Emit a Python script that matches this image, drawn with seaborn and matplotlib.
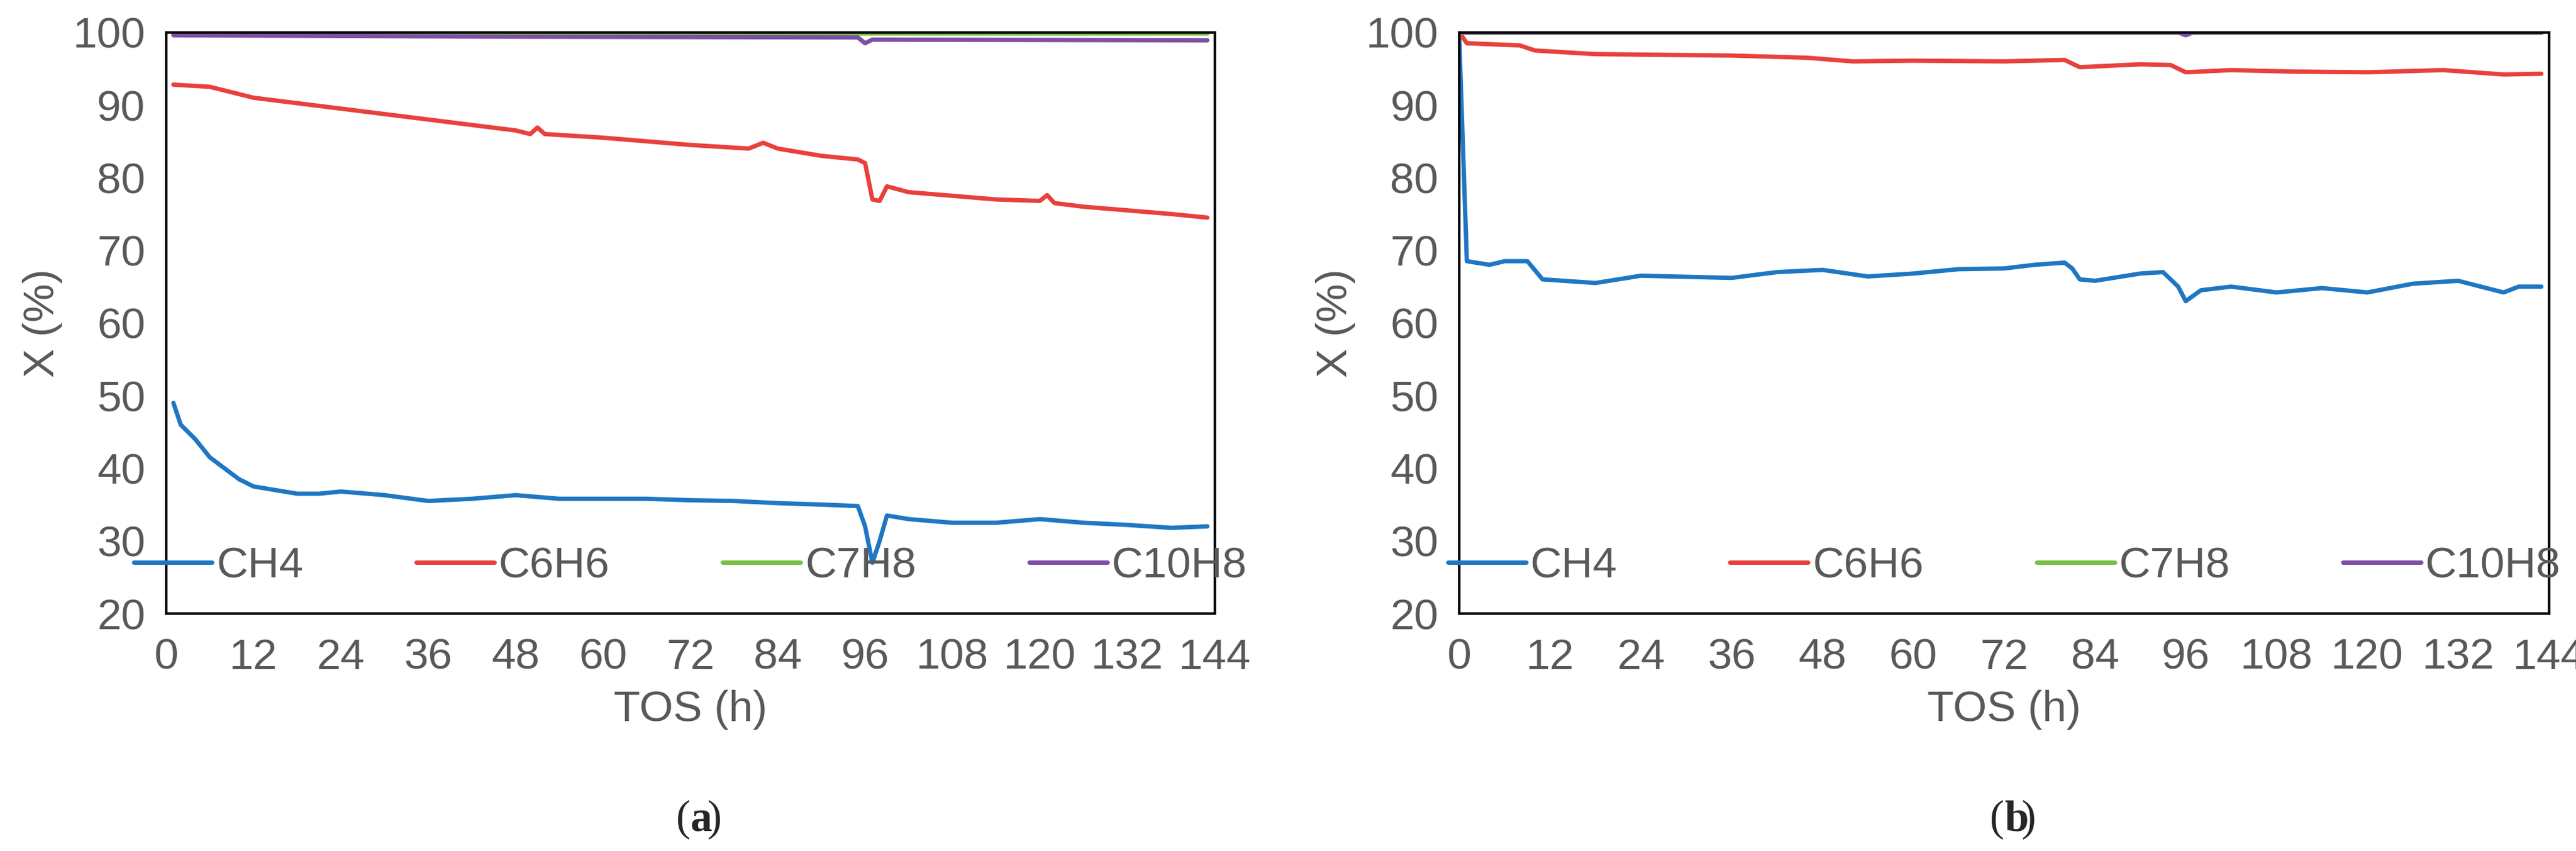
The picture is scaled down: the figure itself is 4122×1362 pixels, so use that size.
import numpy as np
import pandas as pd
import matplotlib
matplotlib.use("Agg")
import matplotlib.pyplot as plt
import seaborn as sns

sns.set_style("white")
plt.rcParams['font.family'] = ['Liberation Sans', 'DejaVu Sans']

# Panel (a)
a_ch4_x = [1,2,4,6,8,10,12,15,18,21,24,30,36,42,48,54,60,66,72,78,84,90,95,96,97,98,99,102,108,114,120,126,132,138,143]
a_ch4_y = [49,46,44,41.5,40,38.5,37.5,37,36.5,36.5,36.8,36.3,35.5,35.8,36.3,35.8,35.8,35.8,35.6,35.5,35.2,35,34.8,32,27,30,33.5,33,32.5,32.5,33,32.5,32.2,31.8,32]
a_c6h6_x = [1,6,12,24,36,48,50,51,52,60,72,80,82,84,90,95,96,97,98,99,102,108,114,120,121,122,126,132,138,143]
a_c6h6_y = [92.8,92.5,91,89.5,88,86.5,86,86.9,86,85.5,84.5,84,84.8,84,83,82.5,82,77,76.8,78.8,78,77.5,77,76.8,77.6,76.5,76,75.5,75,74.5]
a_c7h8_x = [1,48,96,143]
a_c7h8_y = [99.9,99.9,99.9,99.9]
a_c10h8_x = [1,48,95,96,97,143]
a_c10h8_y = [99.6,99.4,99.3,98.5,99.0,98.9]

# Panel (b)
b_ch4_x = [0,1,4,6,9,11,18,24,36,42,48,54,60,66,72,76,80,81,82,84,90,93,95,96,98,102,108,114,120,126,132,138,140,143]
b_ch4_y = [99,68.5,68,68.5,68.5,66,65.5,66.5,66.2,67,67.3,66.4,66.8,67.4,67.5,68,68.3,67.5,66,65.8,66.8,67,65,63,64.5,65,64.2,64.8,64.2,65.4,65.8,64.2,65,65]
b_c6h6_x = [0,1,8,10,18,36,46,52,60,72,80,82,90,94,96,102,110,120,130,138,143]
b_c6h6_y = [100,98.5,98.2,97.5,97,96.8,96.5,96,96.1,96,96.2,95.2,95.6,95.5,94.5,94.8,94.6,94.5,94.8,94.2,94.3]
b_c7h8_x = [0,48,96,143]
b_c7h8_y = [100,100,100,100]
b_c10h8_x = [0,95,96,97,143]
b_c10h8_y = [100,100,99.6,100,100]

names = ["CH4", "C6H6", "C7H8", "C10H8"]
palette = {"CH4": "#1f77c4", "C6H6": "#e8413c", "C7H8": "#77c043", "C10H8": "#7d4fa5"}

def frame(series):
    rows = []
    for n, (xs, ys) in zip(names, series):
        rows += [{"t": x, "X": y, "s": n} for x, y in zip(xs, ys)]
    return pd.DataFrame(rows)

dfa = frame([(a_ch4_x, a_ch4_y), (a_c6h6_x, a_c6h6_y), (a_c7h8_x, a_c7h8_y), (a_c10h8_x, a_c10h8_y)])
dfb = frame([(b_ch4_x, b_ch4_y), (b_c6h6_x, b_c6h6_y), (b_c7h8_x, b_c7h8_y), (b_c10h8_x, b_c10h8_y)])

fig = plt.figure(figsize=(41.22, 13.62), dpi=100)
axa = fig.add_axes([0.0645, 0.279, 0.407, 0.683])
axb = fig.add_axes([0.5665, 0.279, 0.423, 0.683])
grey = "#595959"
fs = 50
for ax, df, lab in [(axa, dfa, "a"), (axb, dfb, "b")]:
    sns.lineplot(data=df, x="t", y="X", hue="s", hue_order=names, palette=palette,
                 linewidth=5, ax=ax, estimator=None, sort=False)
    ax.set_xlim(0, 144)
    ax.set_ylim(20, 100)
    ax.set_xticks(range(0, 145, 12))
    ax.set_yticks(range(20, 101, 10))
    ax.tick_params(axis="x", labelsize=fs, colors=grey, length=0, pad=28)
    ax.tick_params(axis="y", labelsize=fs, colors=grey, length=0, pad=24)
    ax.set_xlabel("TOS (h)", fontsize=fs, color=grey, labelpad=14)
    ax.set_ylabel("X (%)", fontsize=fs, color=grey, labelpad=12)
    for s in ax.spines.values():
        s.set_color("black"); s.set_linewidth(3)
    ax.legend(loc="lower center", ncol=4, frameon=False, fontsize=fs, handlelength=1.8,
              handletextpad=0.1, columnspacing=2.6, labelcolor=grey,
              bbox_to_anchor=(0.5, -0.02))
    for l in ax.get_legend().get_lines():
        l.set_linewidth(5)
    ax.text(0.5, -0.355, "(", transform=ax.transAxes, ha="right", va="center",
            fontsize=fs, family="Liberation Serif")
    ax.text(0.5, -0.355, lab, transform=ax.transAxes, ha="left", va="center",
            fontsize=fs, family="Liberation Serif", fontweight="bold")
    ax.text(0.5 + 0.016, -0.355, ")", transform=ax.transAxes,
            ha="left", va="center", fontsize=fs, family="Liberation Serif")

fig.savefig("out.png", dpi=100, facecolor="white")
